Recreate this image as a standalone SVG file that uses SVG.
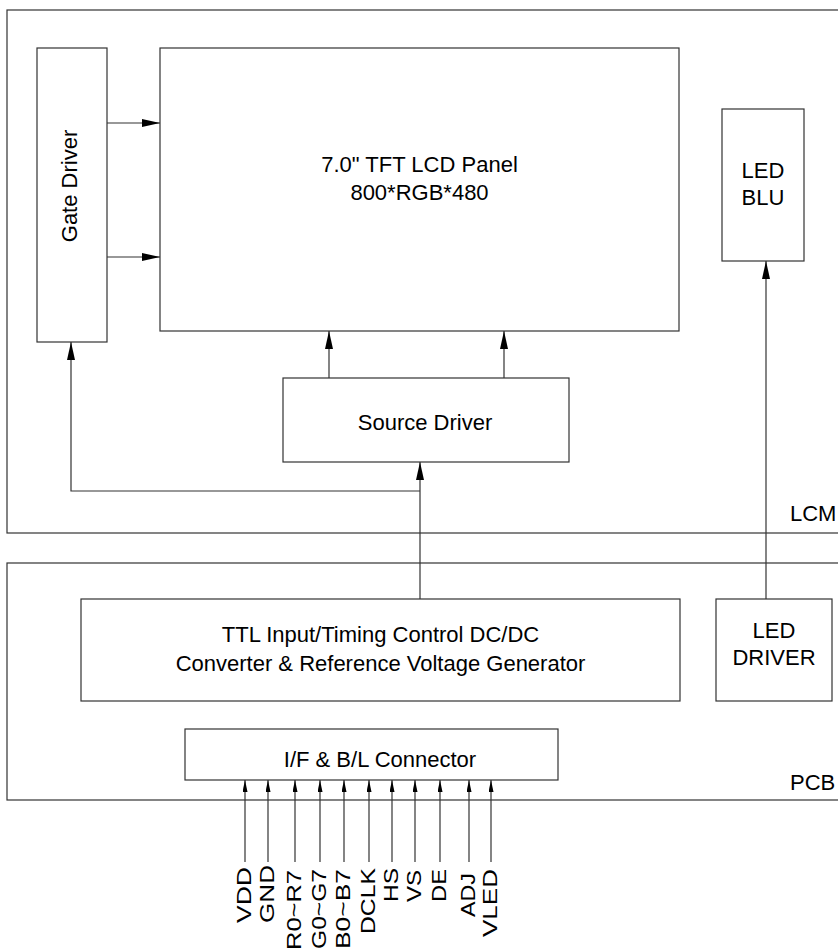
<svg xmlns="http://www.w3.org/2000/svg" width="838" height="948" viewBox="0 0 838 948">
<style>
.box{fill:none;stroke:#333;stroke-width:1.2}
.ln{fill:none;stroke:#333;stroke-width:1.2}
.t{font-family:"Liberation Sans",Arial,sans-serif;font-size:22px;fill:#000}
.m{text-anchor:middle}
.s{font-family:"Liberation Sans",Arial,sans-serif;font-size:21px;fill:#000;text-anchor:end}
</style>
<defs>
<marker id="ah" markerWidth="18" markerHeight="8" refX="18" refY="4" orient="auto" markerUnits="userSpaceOnUse">
<path d="M0,0 L18,4 L0,8 Z" fill="#000"/>
</marker>
<marker id="as" markerWidth="12" markerHeight="5" refX="12" refY="2.5" orient="auto" markerUnits="userSpaceOnUse">
<path d="M0,0 L12,2.5 L0,5 Z" fill="#000"/>
</marker>
</defs>
<g id="lcm">
<rect class="box" x="7" y="10" width="850" height="523"/>
<text class="t" x="790" y="521">LCM</text>
</g>
<g id="pcb">
<rect class="box" x="7" y="563" width="850" height="237"/>
<text class="t" x="790" y="790">PCB</text>
</g>
<g id="gate-driver">
<rect class="box" x="37" y="48" width="70" height="294"/>
<text class="t m" transform="translate(77,186) rotate(-90)">Gate Driver</text>
</g>
<g id="panel">
<rect class="box" x="160" y="48" width="519" height="283"/>
<text class="t m" x="419.5" y="172">7.0" TFT LCD Panel</text>
<text class="t m" x="419.5" y="200">800*RGB*480</text>
</g>
<g id="led-blu">
<rect class="box" x="722" y="109" width="82" height="152"/>
<text class="t m" x="763" y="178">LED</text>
<text class="t m" x="763" y="205">BLU</text>
</g>
<g id="source-driver">
<rect class="box" x="283" y="378" width="286" height="84"/>
<text class="t m" x="425" y="430">Source Driver</text>
</g>
<g id="timing-control">
<rect class="box" x="81" y="599" width="599" height="102"/>
<text class="t m" x="380.5" y="642">TTL Input/Timing Control DC/DC</text>
<text class="t m" x="380.5" y="671">Converter &amp; Reference Voltage Generator</text>
</g>
<g id="led-driver">
<rect class="box" x="716" y="599" width="116" height="102"/>
<text class="t m" x="774" y="638">LED</text>
<text class="t m" x="774" y="665">DRIVER</text>
</g>
<g id="connector">
<rect class="box" x="185" y="729" width="373" height="51"/>
<text class="t m" x="380" y="767">I/F &amp; B/L Connector</text>
</g>
<g id="connectors">
<path class="ln" d="M107,123 H160" marker-end="url(#ah)"/>
<path class="ln" d="M107,257 H160" marker-end="url(#ah)"/>
<path class="ln" d="M329,378 V331" marker-end="url(#ah)"/>
<path class="ln" d="M504,378 V331" marker-end="url(#ah)"/>
<path class="ln" d="M420,599 V462" marker-end="url(#ah)"/>
<path class="ln" d="M420,491 H71 V342" marker-end="url(#ah)"/>
<path class="ln" d="M766,599 V261" marker-end="url(#ah)"/>
<path class="ln" d="M245,862 V780" marker-end="url(#as)"/>
<path class="ln" d="M268,862 V780" marker-end="url(#as)"/>
<path class="ln" d="M295,862 V780" marker-end="url(#as)"/>
<path class="ln" d="M320,862 V780" marker-end="url(#as)"/>
<path class="ln" d="M344,862 V780" marker-end="url(#as)"/>
<path class="ln" d="M369,862 V780" marker-end="url(#as)"/>
<path class="ln" d="M392,862 V780" marker-end="url(#as)"/>
<path class="ln" d="M415,862 V780" marker-end="url(#as)"/>
<path class="ln" d="M440,862 V780" marker-end="url(#as)"/>
<path class="ln" d="M469,862 V780" marker-end="url(#as)"/>
<path class="ln" d="M491,862 V780" marker-end="url(#as)"/>
</g>
<g id="signal-labels">
<text class="s" transform="translate(251,867) rotate(-90)" textLength="56" lengthAdjust="spacingAndGlyphs">VDD</text>
<text class="s" transform="translate(274,865) rotate(-90)" textLength="58" lengthAdjust="spacingAndGlyphs">GND</text>
<text class="s" transform="translate(301,870) rotate(-90)" textLength="80" lengthAdjust="spacingAndGlyphs">R0~R7</text>
<text class="s" transform="translate(326,869) rotate(-90)" textLength="80" lengthAdjust="spacingAndGlyphs">G0~G7</text>
<text class="s" transform="translate(350,869) rotate(-90)" textLength="80" lengthAdjust="spacingAndGlyphs">B0~B7</text>
<text class="s" transform="translate(375,868) rotate(-90)" textLength="66" lengthAdjust="spacingAndGlyphs">DCLK</text>
<text class="s" transform="translate(398,868) rotate(-90)" textLength="34" lengthAdjust="spacingAndGlyphs">HS</text>
<text class="s" transform="translate(421,870) rotate(-90)" textLength="32" lengthAdjust="spacingAndGlyphs">VS</text>
<text class="s" transform="translate(446,869) rotate(-90)" textLength="33" lengthAdjust="spacingAndGlyphs">DE</text>
<text class="s" transform="translate(475,873) rotate(-90)" textLength="44" lengthAdjust="spacingAndGlyphs">ADJ</text>
<text class="s" transform="translate(497,869) rotate(-90)" textLength="68" lengthAdjust="spacingAndGlyphs">VLED</text>
</g>
</svg>
